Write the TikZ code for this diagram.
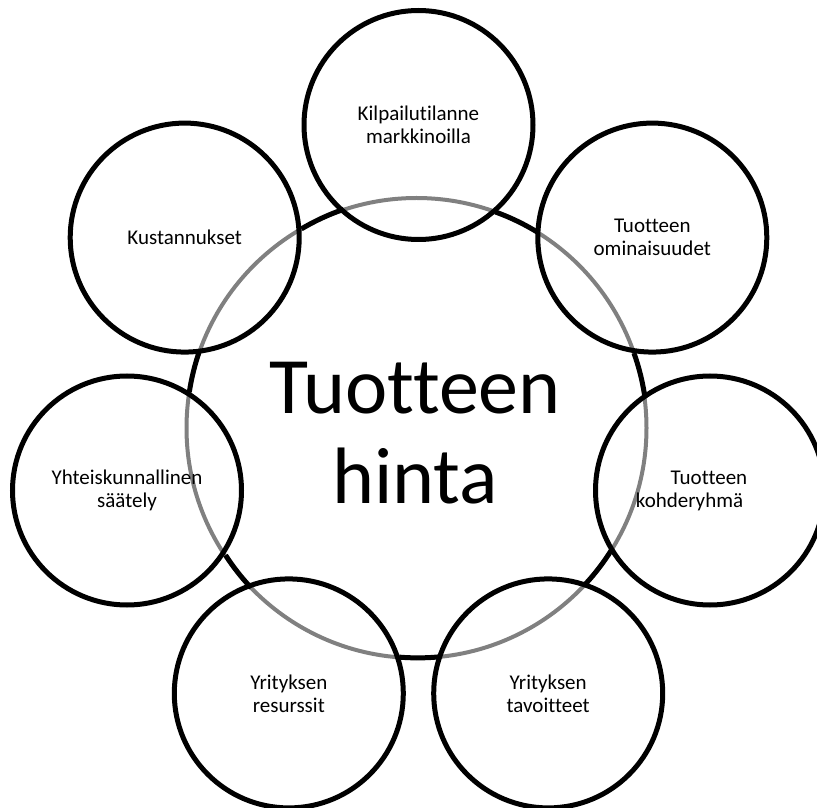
\documentclass[tikz,border=0pt]{standalone}
\usepackage{fontspec}
\setmainfont{Carlito}[Ligatures=NoCommon]
\begin{document}
\begin{tikzpicture}[
    x=1pt, y=1pt,
    hub/.style={draw=black!50, circle, line width=4pt, minimum size=460pt, inner sep=0pt, outer sep=0pt},
    factor/.style={draw, circle, line width=5pt, minimum size=229pt, inner sep=0pt, align=center, font=\fontsize{21}{23}\selectfont},
    title/.style={align=center, font=\fontsize{80}{90}\selectfont},
    link/.style={line width=5pt}
]
\useasboundingbox (0,0) rectangle (817,807);

% Centre circle and its text
\node[hub] (hub) at (416.5,379) {};
\node[title] (price) at (415,373.5) {Tuotteen\\hinta};

% Arcs of the ring between neighbouring circles
\draw[link] (hub.70.2) arc[start angle=70.2, end angle=58.3, radius=230];
\draw[link] (hub.19.6) arc[start angle=19.6, end angle=8.0, radius=230];
\draw[link] (hub.-32.0) arc[start angle=-32.0, end angle=-42.9, radius=230];
\draw[link] (hub.-84.3) arc[start angle=-84.3, end angle=-94.6, radius=230];
\draw[link] (hub.-136.8) arc[start angle=-136.8, end angle=-147.1, radius=230];
\draw[link] (hub.171.4) arc[start angle=171.4, end angle=160.6, radius=230];
\draw[link] (hub.120.6) arc[start angle=120.6, end angle=109.0, radius=230];

% Factors (round the centre, clockwise from the top)
\node[factor] (competition) at (418.5,682) {Kilpailutilanne\\markkinoilla};
\node[factor] (features) at (652.3,569.4) {Tuotteen\\ominaisuudet};
\node[factor] (audience) at (710,316.5) {};
\node[font=\fontsize{21}{23}\selectfont, align=center] (audienceText) at (709,316.5) {Tuotteen\\kohderyhmä\hspace*{39pt}};
\node[factor] (goals) at (548.2,113.6) {Yrityksen\\tavoitteet};
\node[factor] (resources) at (288.8,113.6) {Yrityksen\\resurssit};
\node[factor] (regulation) at (127,316.5) {Yhteiskunnallinen\\säätely};
\node[factor] (costs) at (184.7,569.4) {Kustannukset};
\end{tikzpicture}
\end{document}
